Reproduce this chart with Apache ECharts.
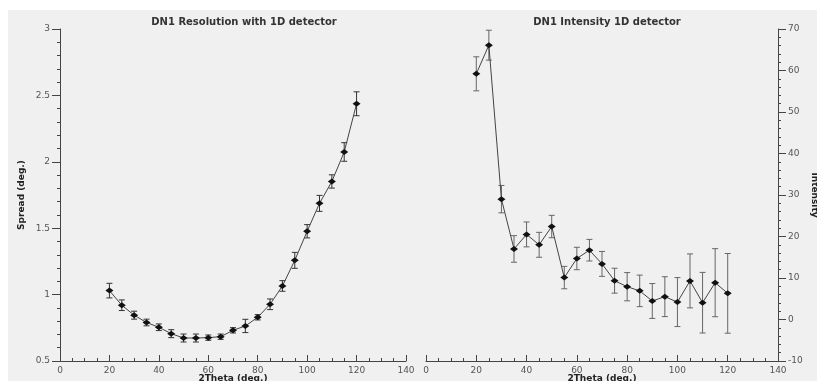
<!DOCTYPE html>
<html>
<head>
<meta charset="utf-8">
<script src="https://cdn.jsdelivr.net/npm/echarts@6/dist/echarts.min.js"></script>
<style>
html,body{margin:0;padding:0;background:#fff;}
#c{width:817px;height:381px;}
</style>
</head>
<body>
<div id="c"></div>
<script>
var theta = [20,25,30,35,40,45,50,55,60,65,70,75,80,85,90,95,100,105,110,115,120];
var spread = [1.03,0.92,0.845,0.79,0.754,0.706,0.673,0.673,0.676,0.683,0.731,0.764,0.829,0.927,1.065,1.258,1.477,1.687,1.852,2.074,2.437];
var spreadErr = [0.055,0.04,0.03,0.025,0.025,0.03,0.03,0.03,0.02,0.02,0.02,0.05,0.02,0.04,0.04,0.06,0.05,0.06,0.05,0.07,0.09];
var intensity = [59.2,66.1,29.0,17.0,20.5,18.0,22.4,10.1,14.7,16.7,13.4,9.35,7.9,6.9,4.46,5.5,4.2,9.3,4.05,8.87,6.3];
var intensityErr = [4.1,3.6,3.3,3.2,3.0,3.0,2.7,2.7,2.7,2.6,3.0,3.0,3.4,3.8,4.2,4.8,5.9,6.5,7.3,8.2,9.6];
var xTicks = [0,20,40,60,80,100,120,140];
var leftTicks = [0.5,1,1.5,2,2.5,3];
var rightTicks = [-10,0,10,20,30,40,50,60,70];

var chart = echarts.init(document.getElementById('c'));
var lblFont = {fontFamily:'DejaVu Sans', fontSize:9, color:'#555'};
var nameFont = {fontFamily:'DejaVu Sans', fontSize:9, fontWeight:'bold', color:'#222'};

function errData(vals, errs){
  return theta.map(function(x,i){ return [x, vals[i]-errs[i], vals[i]+errs[i]]; });
}
function errRender(color){
  return function(params, api){
    var x = api.value(0);
    var lo = api.coord([x, api.value(1)]);
    var hi = api.coord([x, api.value(2)]);
    var w = 3;
    var st = {stroke:color, lineWidth:1};
    return {type:'group', children:[
      {type:'line', shape:{x1:lo[0],y1:lo[1],x2:hi[0],y2:hi[1]}, style:st},
      {type:'line', shape:{x1:lo[0]-w,y1:lo[1],x2:lo[0]+w,y2:lo[1]}, style:st},
      {type:'line', shape:{x1:hi[0]-w,y1:hi[1],x2:hi[0]+w,y2:hi[1]}, style:st}
    ]};
  };
}
function xAxis(idx){
  return {
    type:'value', gridIndex:idx, min:xTicks[0], max:xTicks[xTicks.length-1], interval:20,
    name:'2Theta (deg.)', nameLocation:'middle', nameGap:13, nameMoveOverlap:false, nameTextStyle:nameFont,
    axisLine:{onZero:false, lineStyle:{color:'#444', width:1}},
    axisTick:{inside:true, length:6, lineStyle:{color:'#444'}},
    minorTick:{show:true, splitNumber:4, length:3, lineStyle:{color:'#444'}},
    axisLabel:Object.assign({margin:5}, lblFont),
    splitLine:{show:false}
  };
}
var option = {
  backgroundColor:'#fff',
  animation:false,
  graphic:[{type:'rect', z:-10, shape:{x:8,y:10,width:809,height:371}, style:{fill:'#f0f0f0'}}],
  title:[
    {text:'DN1 Resolution with 1D detector', left:239, textAlign:'center', top:12,
     textStyle:{fontFamily:'DejaVu Sans', fontSize:10, fontWeight:'bold', color:'#333'}},
    {text:'DN1 Intensity 1D detector', left:602, textAlign:'center', top:12,
     textStyle:{fontFamily:'DejaVu Sans', fontSize:10, fontWeight:'bold', color:'#333'}}
  ],
  grid:[
    {left:60, right:411, top:29, bottom:20, outerBoundsMode:'none', containLabel:false},
    {left:426, right:39, top:29, bottom:20, outerBoundsMode:'none', containLabel:false}
  ],
  xAxis:[xAxis(0), xAxis(1)],
  yAxis:[
    {type:'value', gridIndex:0, min:leftTicks[0], max:leftTicks[leftTicks.length-1], interval:0.5,
     name:'Spread (deg.)', nameLocation:'middle', nameGap:34, nameRotate:90, nameTextStyle:nameFont,
     axisLine:{show:true, onZero:false, lineStyle:{color:'#444'}},
     axisTick:{show:true, length:8, lineStyle:{color:'#444'}},
     minorTick:{show:true, splitNumber:5, length:3, lineStyle:{color:'#444'}},
     axisLabel:Object.assign({margin:10}, lblFont),
     splitLine:{show:false}},
    {type:'value', gridIndex:1, position:'right', min:rightTicks[0], max:rightTicks[rightTicks.length-1], interval:10,
     name:'Intensity', nameLocation:'middle', nameGap:32, nameRotate:-90, nameTextStyle:nameFont,
     axisLine:{show:true, onZero:false, lineStyle:{color:'#444'}},
     axisTick:{show:true, length:8, lineStyle:{color:'#444'}},
     minorTick:{show:true, splitNumber:5, length:3, lineStyle:{color:'#444'}},
     axisLabel:Object.assign({margin:10}, lblFont),
     splitLine:{show:false}}
  ],
  series:[
    {type:'custom', xAxisIndex:0, yAxisIndex:0, renderItem:errRender('#333'), data:errData(spread, spreadErr), z:3},
    {type:'line', xAxisIndex:0, yAxisIndex:0, data:theta.map(function(x,i){return [x, spread[i]];}),
     symbol:'diamond', symbolSize:[8,6], itemStyle:{color:'#111'}, lineStyle:{color:'#444', width:1}, z:4},
    {type:'custom', xAxisIndex:1, yAxisIndex:1, renderItem:errRender('#666'), data:errData(intensity, intensityErr), z:3, clip:true},
    {type:'line', xAxisIndex:1, yAxisIndex:1, data:theta.map(function(x,i){return [x, intensity[i]];}),
     symbol:'diamond', symbolSize:[8,6], itemStyle:{color:'#111'}, lineStyle:{color:'#444', width:1}, z:4}
  ]
};
chart.setOption(option);
</script>
</body>
</html>
